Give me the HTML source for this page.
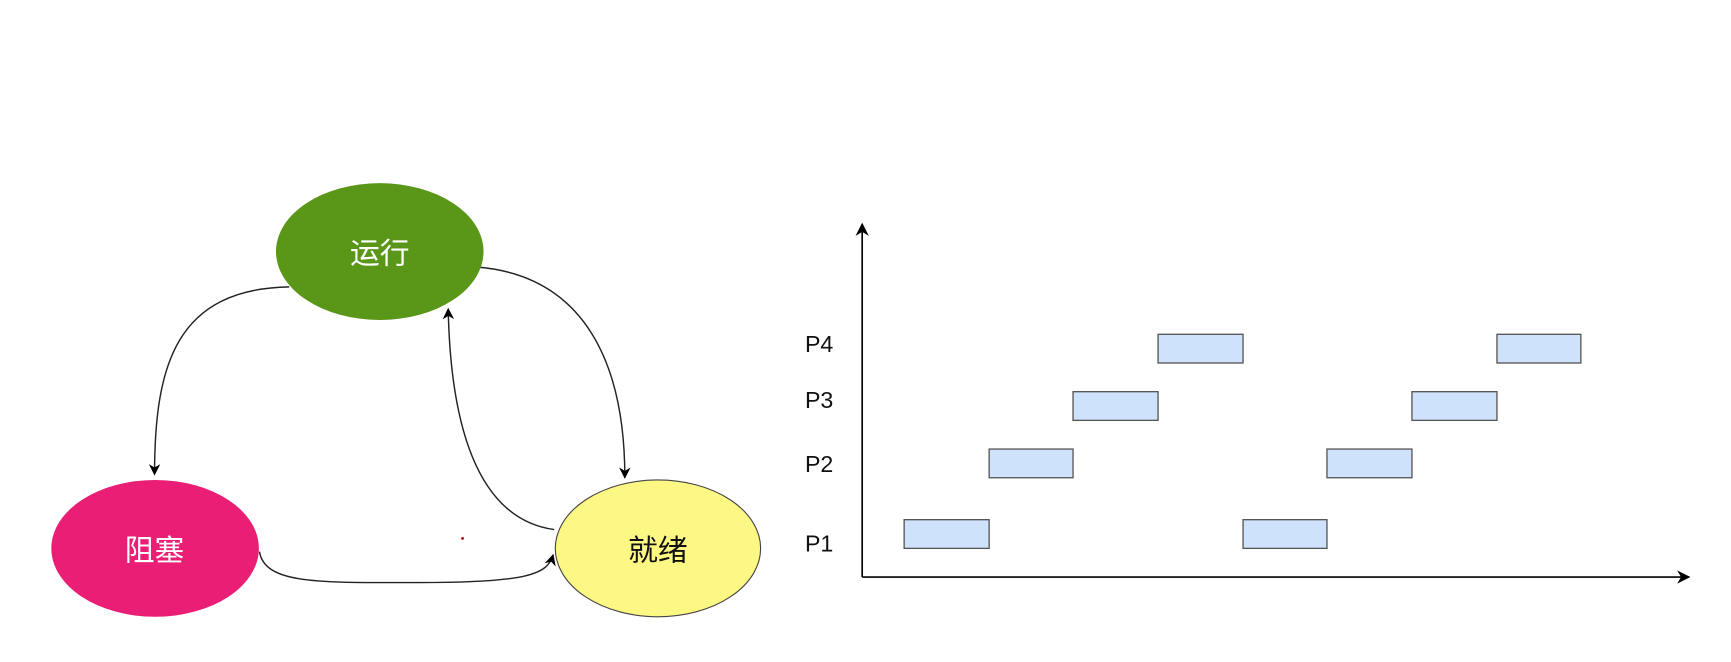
<!DOCTYPE html>
<html><head><meta charset="utf-8"><style>html,body{margin:0;padding:0;background:#fff;}svg{display:block}</style></head>
<body>
<svg width="1731" height="662" viewBox="0 0 1568 600" preserveAspectRatio="none" xmlns="http://www.w3.org/2000/svg">
<defs>
<marker id="a" viewBox="0 0 10 10" refX="9" refY="5" markerWidth="8" markerHeight="8" orient="auto-start-reverse"><path d="M0,0 L10,5 L0,10 L3,5 z" fill="#000"/></marker>
</defs>
<rect width="1568" height="600" fill="#fff"/>
<g fill="none" stroke="#222" stroke-width="1.3">
<path d="M262,260 C160,262 140,330 140,430" marker-end="url(#a)"/>
<path d="M432,242 C530,250 566,330 566,433" marker-end="url(#a)"/>
<path d="M502,480 C430,470 408,380 406,280" marker-end="url(#a)"/>
<path d="M235,500 C240,530 290,528 380,528 C480,528 496,520 501,503" marker-end="url(#a)"/>
</g>
<ellipse cx="344" cy="228" rx="94" ry="62" fill="#5a9618"/>
<ellipse cx="140.5" cy="497" rx="94" ry="62" fill="#e91e74"/>
<ellipse cx="596" cy="497" rx="93" ry="62" fill="#fdf883" stroke="#444" stroke-width="1"/>
<circle cx="419" cy="488" r="1.3" fill="#c00"/>
<g font-family="'Liberation Sans','Noto Sans CJK SC',sans-serif" font-size="27" text-anchor="middle">
<text x="344" y="239" fill="#fff">运行</text>
<text x="140" y="508" fill="#fff">阻塞</text>
<text x="596" y="508" fill="#111">就绪</text>
</g>
<g stroke="#000" stroke-width="1.5" fill="none">
<path d="M781,523 L781,203" marker-end="url(#a)"/>
<path d="M781,523 L1530,523" marker-end="url(#a)"/>
</g>
<g fill="#cfe2fb" stroke="#555" stroke-width="1.2">
<rect x="819" y="471" width="77" height="26"/>
<rect x="896" y="407" width="76" height="26"/>
<rect x="972" y="355" width="77" height="26"/>
<rect x="1049" y="303" width="77" height="26"/>
<rect x="1126" y="471" width="76" height="26"/>
<rect x="1202" y="407" width="77" height="26"/>
<rect x="1279" y="355" width="77" height="26"/>
<rect x="1356" y="303" width="76" height="26"/>
</g>
<g font-family="'Liberation Sans',sans-serif" font-size="21" fill="#111" text-anchor="middle">
<text x="742" y="319">P4</text>
<text x="742" y="370">P3</text>
<text x="742" y="428">P2</text>
<text x="742" y="500">P1</text>
</g>
</svg>
</body></html>
